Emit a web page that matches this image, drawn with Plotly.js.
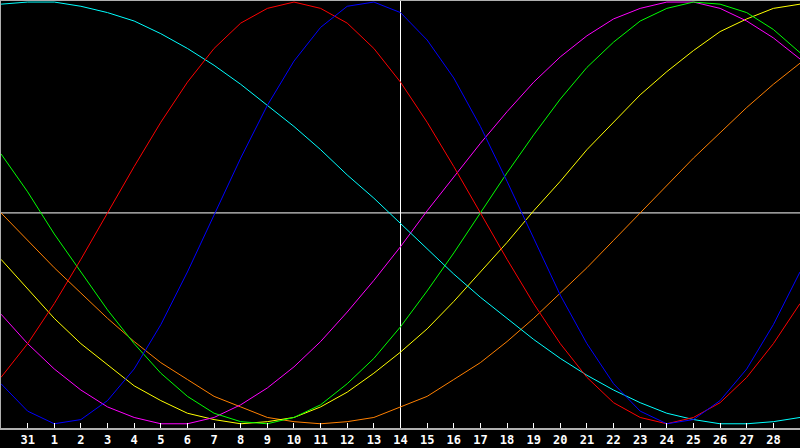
<!DOCTYPE html>
<html>
<head>
<meta charset="utf-8">
<script src="https://cdn.plot.ly/plotly-3.0.1.min.js"></script>
<style>
  html, body { margin: 0; padding: 0; background: #000; }
  #chart { width: 800px; height: 448px; }
</style>
</head>
<body>
<div id="chart"></div>
<script>
// day offsets shown (one point per day, -1 and 29 are half off screen)
var days = [-1, 0, 1, 2, 3, 4, 5, 6, 7, 8, 9, 10, 11, 12, 13, 14, 15, 16, 17, 18, 19, 20, 21, 22, 23, 24, 25, 26, 27, 28, 29];
var tickDays = [0, 1, 2, 3, 4, 5, 6, 7, 8, 9, 10, 11, 12, 13, 14, 15, 16, 17, 18, 19, 20, 21, 22, 23, 24, 25, 26, 27, 28];
var tickLabels = ['31', '1', '2', '3', '4', '5', '6', '7', '8', '9', '10', '11', '12', '13', '14',
                  '15', '16', '17', '18', '19', '20', '21', '22', '23', '24', '25', '26', '27', '28'];
var today = 14;

// cycle values, -1 .. 1
var redVals     = [-0.78, -0.62, -0.43, -0.22, 0.00, 0.22, 0.43, 0.62, 0.78, 0.90, 0.97, 1.00, 0.97, 0.90, 0.78, 0.62,
                   0.43, 0.22, 0.00, -0.22, -0.43, -0.62, -0.78, -0.90, -0.97, -1.00, -0.97, -0.90, -0.78, -0.62, -0.43];
var blueVals    = [-0.81, -0.94, -1.00, -0.98, -0.89, -0.74, -0.53, -0.28, -0.01, 0.26, 0.51, 0.72, 0.88, 0.98, 1.00, 0.95,
                   0.82, 0.64, 0.41, 0.15, -0.12, -0.39, -0.62, -0.81, -0.94, -1.00, -0.98, -0.89, -0.74, -0.53, -0.28];
var cyanVals    = [0.99, 1.00, 1.00, 0.98, 0.95, 0.91, 0.85, 0.78, 0.70, 0.61, 0.51, 0.41, 0.30, 0.18, 0.07, -0.05,
                   -0.17, -0.29, -0.40, -0.50, -0.60, -0.69, -0.77, -0.84, -0.90, -0.95, -0.98, -1.00, -1.00, -0.99, -0.97];
var greenVals   = [0.28, 0.10, -0.10, -0.28, -0.46, -0.62, -0.76, -0.87, -0.95, -0.99, -1.00, -0.97, -0.91, -0.81, -0.69, -0.54,
                   -0.37, -0.19, 0.00, 0.19, 0.37, 0.54, 0.69, 0.81, 0.91, 0.97, 1.00, 0.99, 0.95, 0.87, 0.76];
var magentaVals = [-0.48, -0.62, -0.74, -0.84, -0.92, -0.97, -1.00, -1.00, -0.97, -0.91, -0.83, -0.73, -0.61, -0.47, -0.32, -0.16,
                   0.01, 0.17, 0.33, 0.48, 0.62, 0.74, 0.84, 0.92, 0.97, 1.00, 1.00, 0.97, 0.91, 0.83, 0.73];
var yellowVals  = [-0.22, -0.36, -0.50, -0.62, -0.72, -0.82, -0.89, -0.95, -0.98, -1.00, -0.99, -0.97, -0.92, -0.85, -0.76, -0.66,
                   -0.55, -0.42, -0.28, -0.14, 0.01, 0.15, 0.30, 0.43, 0.56, 0.67, 0.77, 0.86, 0.92, 0.97, 0.99];
var orangeVals  = [0.00, -0.13, -0.26, -0.38, -0.50, -0.61, -0.71, -0.79, -0.87, -0.92, -0.97, -0.99, -1.00, -0.99, -0.97, -0.92,
                   -0.87, -0.79, -0.71, -0.61, -0.50, -0.38, -0.26, -0.13, 0.00, 0.13, 0.26, 0.38, 0.50, 0.61, 0.71];

var series = [
    [orangeVals, '#ff8000'],
    [yellowVals, '#ffff00'],
    [magentaVals, '#ff00ff'],
    [greenVals, '#00ff00'],
    [cyanVals, '#00ffff'],
    [redVals, '#ff0000'],
    [blueVals, '#0000ff']
];

var data = series.map(function(s){
    return {
        x: days,
        y: s[0],
        type: 'scatter',
        mode: 'lines',
        line: {color: s[1], width: 1},
        hoverinfo: 'skip',
        showlegend: false
    };
});

var layout = {
    width: 800,
    height: 448,
    paper_bgcolor: '#000',
    plot_bgcolor: '#000',
    margin: {l: 1, r: 0, t: 1, b: 20},
    showlegend: false,
    xaxis: {
        range: [-1, 29],
        tickmode: 'array',
        tickvals: tickDays,
        ticktext: tickLabels,
        ticks: 'inside',
        ticklen: 5,
        tickwidth: 1,
        tickcolor: '#ffffff',
        showgrid: false,
        zeroline: false,
        showline: true,
        linecolor: '#b0b0b0',
        linewidth: 2,
        mirror: true,
        tickfont: {family: 'DejaVu Sans Mono', size: 12, color: '#ffffff', weight: 'bold'},
        fixedrange: true
    },
    yaxis: {
        range: [-1.02, 1.005],
        showticklabels: false,
        ticks: '',
        showgrid: false,
        zeroline: false,
        showline: true,
        linecolor: '#b0b0b0',
        linewidth: 2,
        fixedrange: true
    },
    shapes: [
        {type: 'line', xref: 'paper', yref: 'y', x0: 0, x1: 1, y0: 0, y1: 0,
         line: {color: '#ffffff', width: 1}, layer: 'below'},
        {type: 'line', xref: 'x', yref: 'paper', x0: today, x1: today, y0: 0, y1: 1,
         line: {color: '#ffffff', width: 1}, layer: 'below'}
    ]
};

Plotly.newPlot('chart', data, layout, {staticPlot: true, displayModeBar: false});
</script>
</body>
</html>
